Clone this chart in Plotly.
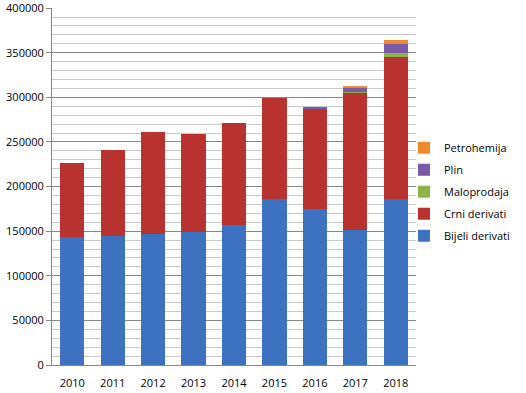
import plotly.graph_objects as go

years = ["2010", "2011", "2012", "2013", "2014", "2015", "2016", "2017", "2018"]
bijeli = [143800, 144900, 147100, 149300, 156800, 185500, 174700, 151200, 185800]
crni = [83000, 96400, 114300, 109900, 114800, 113400, 113300, 153800, 159600]
maloprodaja = [0, 0, 0, 0, 0, 0, 0, 1500, 4000]
plin = [0, 0, 0, 0, 0, 0, 1300, 4500, 10000]
petrohemija = [0, 0, 0, 0, 0, 0, 0, 800, 5000]
y_ticks = [0, 50000, 100000, 150000, 200000, 250000, 300000, 350000, 400000]

series = [
    ("Bijeli derivati", bijeli, "#3d72c1"),
    ("Crni derivati", crni, "#b83330"),
    ("Maloprodaja", maloprodaja, "#8db44a"),
    ("Plin", plin, "#7a5aa6"),
    ("Petrohemija", petrohemija, "#ee8a2c"),
]

fig = go.Figure()
for i, (name, vals, col) in enumerate(series):
    fig.add_trace(go.Bar(
        x=years, y=vals, name=name, legendgroup=name, legendrank=len(series) - i,
        marker=dict(color=col, line=dict(width=0)),
    ))

fig.update_layout(
    width=526, height=393,
    barmode="stack", bargap=0.4,
    paper_bgcolor="white", plot_bgcolor="white",
    margin=dict(l=52, r=110, t=8, b=28, autoexpand=False),
    font=dict(family="Open Sans, DejaVu Sans, sans-serif", size=11, color="#000"),
    showlegend=True,
    legend=dict(
        traceorder="grouped", x=0.967, y=0.485, xanchor="left", yanchor="middle",
        font=dict(size=11), tracegroupgap=3, itemwidth=30,
        bgcolor="rgba(0,0,0,0)",
    ),
    xaxis=dict(
        showline=True, linecolor="#868686", linewidth=1,
        ticks="", tickfont=dict(size=11), showgrid=False, automargin=False,
        ticklabelstandoff=8,
    ),
    yaxis=dict(
        range=[0, 400100], tickvals=y_ticks, ticktext=[str(v) for v in y_ticks],
        ticklabeloverflow="allow",
        showline=True, linecolor="#868686", linewidth=1,
        ticks="outside", ticklen=5, tickcolor="#868686",
        showgrid=True, gridcolor="#868686", gridwidth=1,
        zeroline=False, automargin=False,
        minor=dict(dtick=10000, showgrid=True, gridcolor="#c8c8c8", gridwidth=1),
        tickfont=dict(size=11),
    ),
)

fig.write_html("out.html", config={"displayModeBar": False},
               post_script="document.body.style.margin='0';")
